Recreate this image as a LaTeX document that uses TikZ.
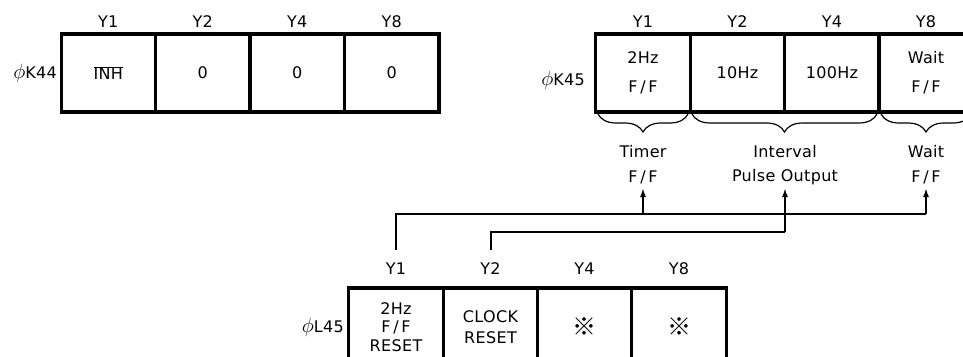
\documentclass[tikz,border=0pt]{standalone}
\usepackage{fontspec}
\setmainfont[LetterSpace=2]{DejaVu Sans}
\newfontfamily\cjkfont{Noto Sans CJK JP}
\usetikzlibrary{arrows.meta,decorations.pathreplacing}
\newcommand{\phisym}{{\fontsize{20}{20}\selectfont$\phi$}}
\begin{document}
\begin{tikzpicture}[x=1pt,y=-1pt,
  cell/.style={draw,line width=3.2pt,rectangle,minimum width=94.3pt,minimum height=78pt,inner sep=0pt,align=center,font=\fontsize{16}{18}\selectfont},
  lbl/.style={inner sep=0pt,font=\fontsize{16}{18}\selectfont},
  conn/.style={line width=2pt},
  arr/.style={line width=2pt,-{Latex[length=9pt,width=6pt]}},
  brc/.style={line width=1.2pt,decorate,decoration={brace,mirror,amplitude=18pt}}
]
\clip (0,0) rectangle (963,356);
\fill[white] (0,0) rectangle (963,356);
% K44
\foreach \i/\t [count=\n] in {a/{$\overline{\hbox{INH}}$},b/0,c/0,d/0}
  \node[cell] (k44\i) at ({61+94.5*(\n-0.5)},73) {\t};
\foreach \i/\y in {a/Y1,b/Y2,c/Y4,d/Y8}
  \node[lbl] (k44\i y) at (k44\i.center |- 0,22) {\y};
\node[lbl,anchor=east] (k44n) at (57,73) {\phisym K44};
% K45
\node[cell] (k45a) at (643,73) {2Hz\\[11pt]F\,/\,F};
\node[cell] (k45b) at (737.5,73) {10Hz};
\node[cell] (k45c) at (832,73) {100Hz};
\node[cell] (k45d) at (926,73) {Wait\\[11pt]F\,/\,F};
\foreach \i/\y in {a/Y1,b/Y2,c/Y4,d/Y8}
  \node[lbl] (k45\i y) at (k45\i.center |- 0,22) {\y};
\node[lbl,anchor=east] (k45n) at (585,80) {\phisym K45};
% braces
\draw[brc] (598,114) -- (688,114);
\draw[brc] (692,114) -- (877,114);
\draw[brc] (881,114) -- (971,114);
\node[lbl] (timer) at (643,152) {Timer};
\node[lbl] (timerff) at (643,177) {F\,/\,F};
\node[lbl] (interval) at (785,152) {Interval};
\node[lbl] (pulse) at (785,177) {Pulse Output};
\node[lbl] (wait) at (926,152) {Wait};
\node[lbl] (waitff) at (926,177) {F\,/\,F};
% L45
\node[cell] (l45a) at (396,327) {2Hz\\[0.5pt]F\,/\,F\\[0.5pt]RESET};
\node[cell] (l45b) at (490.5,327) {CLOCK\\[3pt]RESET};
\node[cell] (l45c) at (584.5,327) {\cjkfont\fontsize{24}{24}\selectfont ※};
\node[cell] (l45d) at (679,327) {\cjkfont\fontsize{24}{24}\selectfont ※};
\foreach \i/\y in {a/Y1,b/Y2,c/Y4,d/Y8}
  \node[lbl] (l45\i y) at (l45\i.center |- 0,269) {\y};
\node[lbl,anchor=east] (l45n) at (344,327) {\phisym L45};
% connectors
\coordinate (s1) at (l45ay.north |- 0,250);
\coordinate (s2) at (l45by.north |- 0,250);
\coordinate (j1) at (s1 |- 0,214);
\coordinate (j2) at (s2 |- 0,232);
\coordinate (ta) at (timerff.south |- 0,188);
\coordinate (pa) at (pulse.south |- 0,188);
\coordinate (wa) at (waitff.south |- 0,188);
\draw[conn] (s1) -- (j1) -- (j1 -| wa);
\draw[arr] (j1 -| ta) -- (ta);
\draw[arr] (j1 -| wa) -- (wa);
\draw[conn] (s2) -- (j2) -- (j2 -| pa);
\draw[arr] (j2 -| pa) -- (pa);
\end{tikzpicture}
\end{document}
